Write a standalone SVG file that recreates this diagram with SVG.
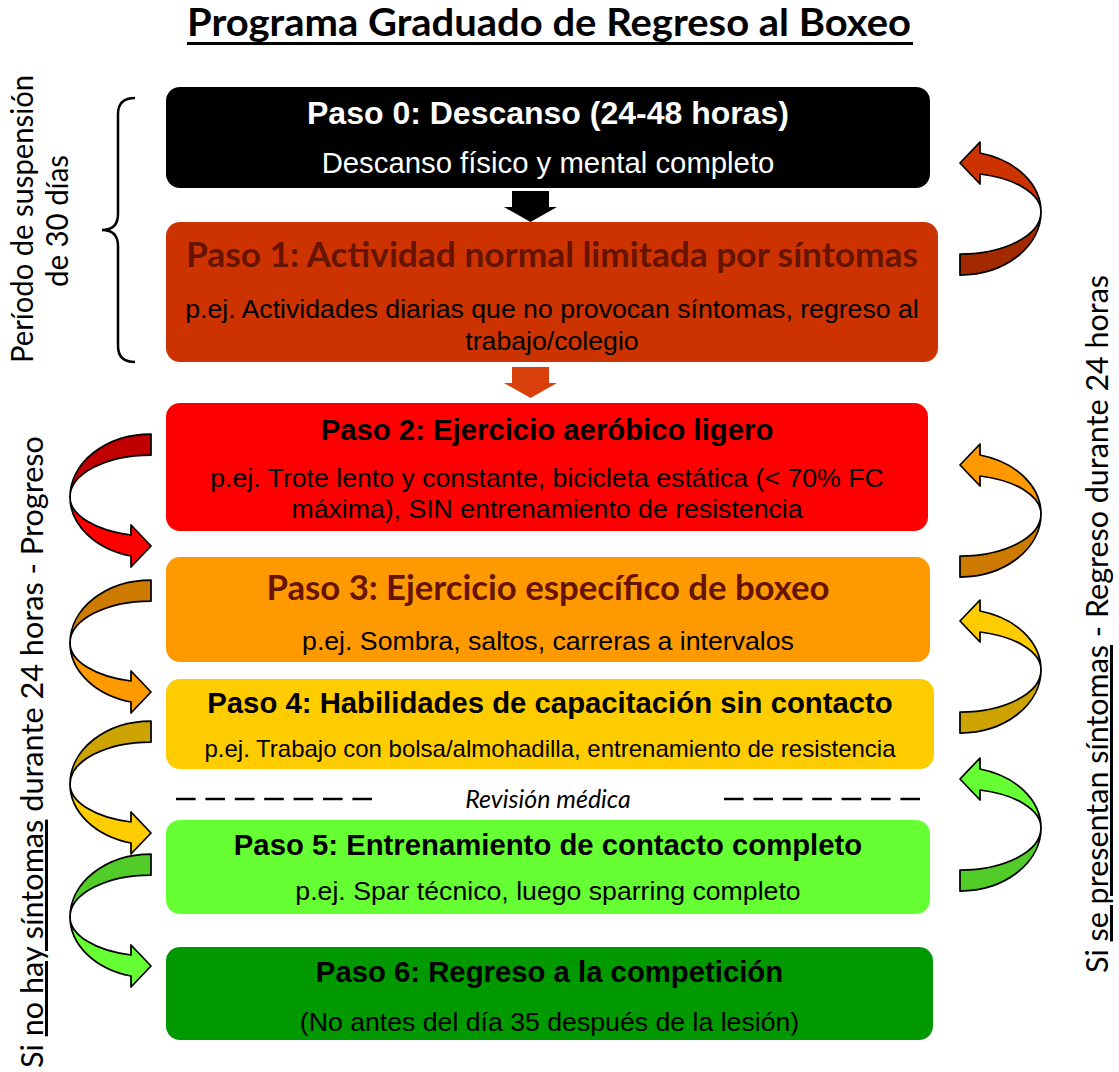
<svg xmlns="http://www.w3.org/2000/svg" width="1119" height="1072" viewBox="0 0 1119 1072">
<defs>
<style>
.t{font-family:"Liberation Sans",Arial,sans-serif;font-weight:bold;font-size:29.3px;text-anchor:middle;fill:#000}
.s{font-family:"Liberation Sans",Arial,sans-serif;font-size:26.67px;text-anchor:middle;fill:#000}
.cb{font-family:Lato,"Liberation Sans",sans-serif;font-weight:bold;font-size:34px;fill:#661400;text-anchor:middle}
.lbl{font-family:Lato,"Liberation Sans",sans-serif;font-size:30px;fill:#000}
.arr use{stroke:#000;stroke-width:1.75;stroke-linejoin:round}
</style>
<path id="ub" d="M151,434 A81,63 0 0 0 70,497 A81,42 0 0 1 151,455 Z"/>
<path id="lb" d="M70,497 A81,61 0 0 0 131,556 L131,567 L151,546 L131,525 L131,535 A81,39 0 0 1 70,497 Z"/>
</defs>
<rect width="1119" height="1072" fill="#fff"/>

<g id="title">
<text x="187" y="36" textLength="724" lengthAdjust="spacingAndGlyphs" style="font-family:Lato,'Liberation Sans',sans-serif;font-weight:bold;font-size:38px">Programa Graduado de Regreso al Boxeo</text>
<rect x="187" y="42" width="726" height="3" fill="#000"/>
</g>

<g id="step0">
<rect x="166" y="87" width="764" height="101" rx="14" fill="#000"/>
<text class="t" x="548" y="124" style="fill:#fff;font-size:32px">Paso 0: Descanso (24-48 horas)</text>
<text class="s" x="548" y="173" style="fill:#fff;font-size:29.3px">Descanso físico y mental completo</text>
</g>

<g id="step1">
<rect x="166" y="222" width="772" height="140" rx="14" fill="#CC3300"/>
<text class="cb" x="552" y="267" textLength="732" lengthAdjust="spacingAndGlyphs">Paso 1: Actividad normal limitada por síntomas</text>
<text class="s" x="552" y="318">p.ej. Actividades diarias que no provocan síntomas, regreso al</text>
<text class="s" x="552" y="350">trabajo/colegio</text>
</g>

<g id="step2">
<rect x="166" y="403" width="762" height="128" rx="14" fill="#FF0000"/>
<text class="t" x="547" y="440">Paso 2: Ejercicio aeróbico ligero</text>
<text class="s" x="547" y="487">p.ej. Trote lento y constante, bicicleta estática (&lt; 70% FC</text>
<text class="s" x="547" y="518">máxima), SIN entrenamiento de resistencia</text>
</g>

<g id="step3">
<rect x="166" y="557" width="764" height="105" rx="14" fill="#FF9900"/>
<text class="cb" x="548" y="600" textLength="563" lengthAdjust="spacingAndGlyphs">Paso 3: Ejercicio específico de boxeo</text>
<text class="s" x="548" y="650">p.ej. Sombra, saltos, carreras a intervalos</text>
</g>

<g id="step4">
<rect x="166" y="679" width="768" height="90" rx="14" fill="#FFCC00"/>
<text class="t" x="550" y="713">Paso 4: Habilidades de capacitación sin contacto</text>
<text class="s" x="550" y="757" style="font-size:24px">p.ej. Trabajo con bolsa/almohadilla, entrenamiento de resistencia</text>
</g>

<g id="review">
<line x1="176" y1="799" x2="372" y2="799" stroke="#000" stroke-width="2.5" stroke-dasharray="19.6 9.8"/>
<line x1="724" y1="799" x2="922" y2="799" stroke="#000" stroke-width="2.5" stroke-dasharray="19.6 9.8"/>
<text x="548" y="808" text-anchor="middle" style="font-family:Lato,'Liberation Sans',sans-serif;font-style:italic;font-size:25px">Revisión médica</text>
</g>

<g id="step5">
<rect x="166" y="820" width="764" height="94" rx="14" fill="#66FF33"/>
<text class="t" x="548" y="855">Paso 5: Entrenamiento de contacto completo</text>
<text class="s" x="548" y="900">p.ej. Spar técnico, luego sparring completo</text>
</g>

<g id="step6">
<rect x="166" y="947" width="767" height="93" rx="14" fill="#009900"/>
<text class="t" x="549.5" y="982">Paso 6: Regreso a la competición</text>
<text class="s" x="549.5" y="1031">(No antes del día 35 después de la lesión)</text>
</g>

<g id="suspension">
<path d="M135,98 Q118,98 118,114 L118,214 Q118,230 102,230 Q118,230 118,246 L118,346 Q118,362 135,362" fill="none" stroke="#000" stroke-width="2.5"/>
<text class="lbl" transform="translate(33,219) rotate(-90)" text-anchor="middle" textLength="288" lengthAdjust="spacingAndGlyphs">Período de suspensión</text>
<text class="lbl" transform="translate(68,221) rotate(-90)" text-anchor="middle" textLength="132" lengthAdjust="spacingAndGlyphs">de 30 días</text>
</g>

<g id="label-left">
<text class="lbl" transform="translate(43,1068) rotate(-90)" textLength="632" lengthAdjust="spacingAndGlyphs">Si <tspan text-decoration="underline">no hay síntomas</tspan> durante 24 horas - Progreso</text>
</g>

<g id="label-right">
<text class="lbl" transform="translate(1108,973) rotate(-90)" textLength="698" lengthAdjust="spacingAndGlyphs">Si <tspan text-decoration="underline">se presentan síntomas</tspan> - Regreso durante 24 horas</text>
</g>

<g id="connectors">
<polygon points="512,191 549,191 549,207 557,207 530.5,222 504,207 512,207" fill="#000"/>
<polygon points="512,367 549,367 549,383 557,383 530.5,398 504,383 512,383" fill="#D9400C"/>

<g class="arr">
<g transform="translate(0,0)"><use href="#ub" fill="#C00000"/><use href="#lb" fill="#FF0000"/></g>
<g transform="translate(0,146)"><use href="#ub" fill="#CC7A00"/><use href="#lb" fill="#FF9900"/></g>
<g transform="translate(0,287)"><use href="#ub" fill="#CCA300"/><use href="#lb" fill="#FFCC00"/></g>
<g transform="translate(0,420)"><use href="#ub" fill="#52CC29"/><use href="#lb" fill="#66FF33"/></g>

<g transform="translate(1111,709) rotate(180)"><use href="#ub" fill="#A32900"/><use href="#lb" fill="#CC3300"/></g>
<g transform="translate(1111,1011) rotate(180)"><use href="#ub" fill="#CC7A00"/><use href="#lb" fill="#FF9900"/></g>
<g transform="translate(1111,1167) rotate(180)"><use href="#ub" fill="#CCA300"/><use href="#lb" fill="#FFCC00"/></g>
<g transform="translate(1111,1325) rotate(180)"><use href="#ub" fill="#52CC29"/><use href="#lb" fill="#66FF33"/></g>
</g>
</g>
</svg>
